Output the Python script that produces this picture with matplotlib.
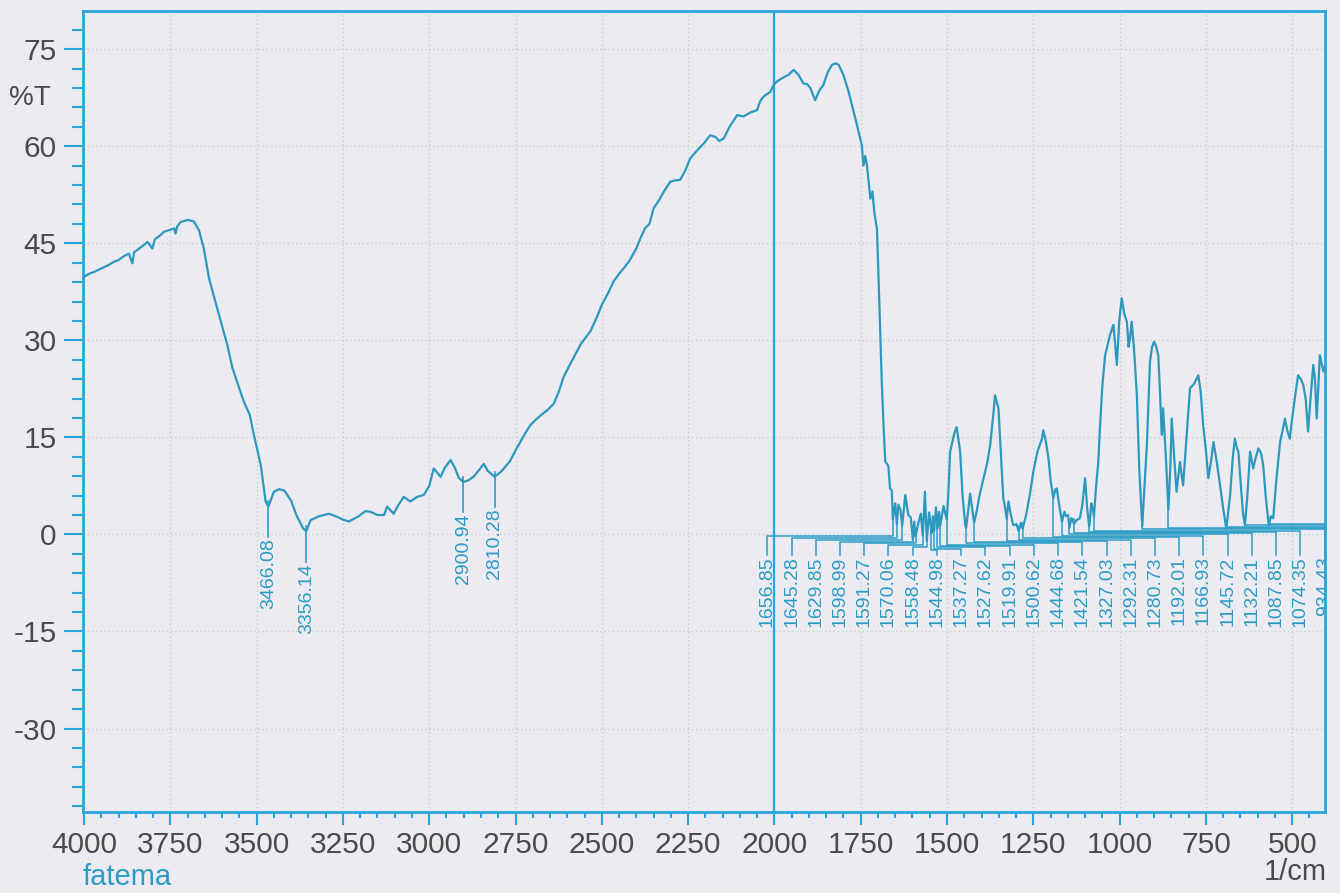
import numpy as np
import matplotlib.pyplot as plt
from matplotlib.ticker import MultipleLocator

plt.rcParams['font.family'] = ['Liberation Sans', 'DejaVu Sans']
plt.rcParams['axes.unicode_minus'] = False

# FTIR transmittance spectrum (wavenumber in 1/cm, %T)
wavenumber = [
    4000, 3985, 3970, 3950, 3930, 3915, 3900, 3885, 3870, 3860,
    3855, 3840, 3825, 3816, 3802, 3795, 3780, 3768, 3755, 3739,
    3735, 3730, 3720, 3700, 3682, 3667, 3653, 3638, 3614, 3585,
    3570, 3537, 3520, 3508, 3488, 3474, 3466.08, 3450, 3435, 3420,
    3400, 3385, 3365, 3356.14, 3344, 3320, 3291, 3270, 3250, 3233,
    3205, 3185, 3170, 3150, 3131, 3122, 3110, 3103, 3090, 3074,
    3055, 3035, 3016, 3000, 2987, 2967, 2955, 2938, 2925, 2915,
    2900.94, 2885, 2870, 2855, 2842, 2830, 2810.28, 2790, 2765, 2750,
    2736, 2720, 2707, 2690, 2675, 2658, 2639, 2625, 2611, 2595,
    2580, 2560, 2533, 2515, 2500, 2480, 2466, 2450, 2437, 2420,
    2400, 2388, 2375, 2362, 2350, 2335, 2320, 2302, 2290, 2273,
    2258, 2244, 2225, 2205, 2186, 2170, 2160, 2147, 2130, 2108,
    2090, 2070, 2050, 2041, 2031, 2012, 2002, 1993, 1975, 1960,
    1944, 1930, 1916, 1905, 1896, 1882, 1870, 1858, 1845, 1833,
    1822, 1814, 1800, 1785, 1770, 1761, 1747, 1742, 1737, 1732,
    1725, 1722, 1716, 1710, 1703, 1698, 1689, 1684, 1679, 1670,
    1665, 1660, 1656.85, 1650, 1645.28, 1641, 1635, 1629.85, 1621, 1612,
    1605, 1598.99, 1595, 1591.27, 1583, 1576, 1570.06, 1564, 1558.48, 1552,
    1548, 1544.98, 1541, 1537.27, 1532, 1527.62, 1523, 1519.91, 1510, 1500.62,
    1496, 1491, 1478, 1472, 1462, 1455, 1447, 1444.68, 1438, 1433,
    1427, 1421.54, 1414, 1406, 1394, 1383, 1375, 1365, 1361, 1351,
    1344, 1337, 1332, 1327.03, 1322, 1315, 1308, 1299, 1292.31, 1286,
    1280.73, 1270, 1260, 1250, 1238, 1225, 1221, 1214, 1206, 1200,
    1192.01, 1186, 1182, 1175, 1166.93, 1160, 1155, 1149, 1145.72, 1140,
    1136, 1132.21, 1125, 1115, 1108, 1100, 1094, 1087.85, 1082, 1078,
    1074.35, 1068, 1062, 1057, 1050, 1042, 1028, 1018, 1013, 1008,
    1001, 994, 986, 979, 974, 970, 965, 958, 950, 943,
    934.43, 929, 921, 912, 906, 900, 894, 888, 883, 878,
    874, 866, 858.71, 853, 849, 842, 835, 830, 825, 820,
    816, 806, 796, 785, 772, 765, 758, 750, 743, 736,
    728, 718, 709, 700, 690.90, 680, 672, 666, 661, 656,
    648, 642, 636.89, 630, 622, 613, 605, 598, 590, 584,
    577, 567.99, 562, 555, 545, 535, 528, 521, 514, 507,
    500, 490, 483, 475, 468, 461, 454, 447, 439, 434,
    429, 425, 420, 415, 410, 405,
]
transmittance = [
    39.8, 40.3, 40.6, 41.1, 41.6, 42.1, 42.4, 43.0, 43.4, 41.9,
    43.6, 44.2, 44.8, 45.2, 44.2, 45.6, 46.2, 46.8, 47.0, 47.3,
    46.5, 47.6, 48.3, 48.6, 48.4, 47.0, 44.2, 39.6, 34.9, 29.3,
    25.7, 20.5, 18.5, 15.4, 10.7, 5.1, 4.3, 6.6, 7.0, 6.8,
    5.2, 3.0, 0.9, 0.5, 2.2, 2.8, 3.2, 2.8, 2.3, 2.0,
    2.8, 3.6, 3.5, 3.0, 3.0, 4.3, 3.6, 3.2, 4.5, 5.8,
    5.1, 5.8, 6.1, 7.5, 10.2, 8.9, 10.3, 11.5, 10.2, 8.8,
    8.1, 8.4, 9.0, 10.0, 10.9, 9.8, 8.9, 9.8, 11.4, 13.0,
    14.3, 15.8, 16.9, 17.8, 18.5, 19.2, 20.2, 22.0, 24.3, 26.0,
    27.5, 29.5, 31.4, 33.5, 35.5, 37.5, 39.1, 40.3, 41.1, 42.3,
    44.2, 45.8, 47.3, 48.0, 50.4, 51.6, 53.0, 54.5, 54.7, 54.8,
    56.3, 58.1, 59.3, 60.4, 61.7, 61.4, 60.8, 61.2, 63.0, 64.8,
    64.6, 65.2, 65.6, 67.0, 67.7, 68.4, 69.5, 70.0, 70.6, 71.0,
    71.8, 71.0, 69.7, 69.6, 69.0, 67.1, 68.6, 69.5, 71.5, 72.6,
    72.8, 72.6, 71.0, 68.4, 65.2, 63.3, 60.2, 57.0, 58.5, 57.1,
    53.5, 51.9, 53.0, 49.5, 47.3, 39.1, 23.6, 17.0, 11.3, 10.6,
    7.1, 6.8, 2.3, 4.8, 1.6, 4.6, 3.8, 1.4, 6.1, 3.0,
    2.6, -0.8, 2.0, -0.3, 1.8, 3.2, -0.2, 6.6, -1.0, 3.4,
    1.8, 0.2, 2.8, 0.6, 4.2, 0.9, 3.5, 1.3, 4.4, 2.3,
    6.5, 12.8, 15.8, 16.6, 12.8, 6.0, 1.4, 1.0, 4.0, 6.3,
    4.0, 1.8, 3.6, 6.0, 8.7, 11.2, 13.8, 19.0, 21.5, 19.5,
    12.5, 5.6, 4.2, 2.4, 5.1, 3.0, 1.4, 1.6, 0.5, 1.8,
    0.9, 3.2, 6.2, 9.7, 12.8, 14.8, 16.1, 14.5, 11.7, 8.4,
    5.6, 7.0, 7.1, 4.6, 2.0, 3.5, 2.8, 3.0, 1.0, 2.5,
    2.3, 1.6, 2.2, 2.5, 4.6, 8.7, 4.0, 1.2, 4.8, 4.0,
    2.8, 7.5, 11.0, 16.4, 23.0, 27.7, 30.8, 32.4, 29.5, 26.2,
    33.0, 36.5, 34.0, 32.9, 29.0, 30.3, 32.9, 28.5, 21.5, 10.0,
    1.2, 6.5, 13.8, 26.7, 29.0, 29.8, 29.0, 27.7, 22.0, 15.4,
    19.5, 12.0, 3.8, 10.5, 17.9, 12.0, 6.6, 9.0, 11.2, 9.0,
    7.6, 15.0, 22.6, 23.2, 24.6, 22.0, 16.9, 13.0, 8.7, 11.0,
    14.3, 11.0, 7.6, 4.0, 0.9, 6.0, 12.0, 14.8, 13.5, 12.8,
    7.0, 3.0, 1.4, 6.0, 12.8, 10.2, 12.0, 13.3, 12.5, 10.7,
    6.0, 1.4, 2.8, 2.5, 9.0, 14.3, 16.0, 17.9, 16.0, 14.8,
    18.0, 22.0, 24.6, 24.0, 23.1, 21.0, 15.9, 21.0, 26.2, 24.0,
    17.9, 22.0, 27.7, 26.5, 25.2, 26.0,
]

# picked peaks
peaks_high = [3466.08, 3356.14, 2900.94, 2810.28]
peaks_low = [1656.85, 1645.28, 1629.85, 1598.99, 1591.27, 1570.06, 1558.48,
             1544.98, 1537.27, 1527.62, 1519.91, 1500.62, 1444.68, 1421.54,
             1327.03, 1292.31, 1280.73, 1192.01, 1166.93, 1145.72, 1132.21,
             1087.85, 1074.35, 934.43]
# peaks whose labels run off the right edge of the printout
peaks_offpage = [858.71, 690.90, 636.89, 567.99]

x_ticks = np.arange(4000, 499, -250)
y_ticks = np.arange(-30, 76, 15)

paper = '#ecebf1'
axis_blue = '#2aa5dd'
trace = '#2d98bd'
peak_col = '#2b9cc6'
grey = '#4a4a4a'

wn = np.array(wavenumber)
tr = np.array(transmittance)


def peak_value(w):
    return np.interp(w, wn[::-1], tr[::-1])


fig = plt.figure(figsize=(13.4, 8.93), dpi=100, facecolor=paper)
ax = fig.add_axes([83 / 1340, 1 - 812 / 893, (1325 - 83) / 1340, (812 - 11) / 893])
ax.set_facecolor(paper)

ax.plot(wn, tr, color=trace, lw=1.6, zorder=3)
ax.axvline(2000, color=axis_blue, lw=1.6, zorder=2)

ax.set_xlim(4003, 405)
ax.set_ylim(-42.9, 80.9)
ax.set_xticks(x_ticks)
ax.set_yticks(y_ticks)
ax.xaxis.set_minor_locator(MultipleLocator(50))
ax.yaxis.set_minor_locator(MultipleLocator(3))
ax.tick_params(axis='both', which='both', color=axis_blue, width=1.5,
               labelcolor=grey, labelsize=21.5)
ax.tick_params(axis='y', which='major', length=14, pad=5)
ax.tick_params(axis='y', which='minor', length=8)
ax.tick_params(axis='x', which='major', length=9, pad=5)
ax.tick_params(axis='x', which='minor', length=4)
ax.grid(which='major', linestyle=(0, (1, 2)), color='#bcd6c9', lw=1)
ax.set_axisbelow(True)
for s in ax.spines.values():
    s.set_color(axis_blue)
    s.set_linewidth(2)

# peak labels above 2000: straight down under the peak
for w in peaks_high:
    yp = peak_value(w)
    top = yp - 4.7
    ax.plot([w, w], [yp + 0.8, top], color=peak_col, lw=1.2, zorder=4)
    ax.text(w, top - 0.2, f"{w:.2f}", rotation=90, ha='center', va='top',
            fontsize=14, color=peak_col)

# crowded fingerprint peaks: labels spread out, joined by leader lines
label_start = 2020.7
label_step = 70.2
text_top = -3.2
n_left = 0
n_right = 0
for k, w in enumerate(peaks_low + peaks_offpage):
    lx = label_start - label_step * k
    yp = peak_value(w)
    if lx > w:
        level = -0.2 - 0.3 * n_left
        n_left += 1
    else:
        level = -2.4 + 0.2 * n_right
        n_right += 1
    ax.plot([w, w, lx, lx], [yp + 0.8, level, level, text_top],
            color=peak_col, lw=1.1, zorder=4, clip_on=True)
    if w in peaks_low:
        ax.text(lx, text_top - 0.2, f"{w:.2f}", rotation=90, ha='center',
                va='top', fontsize=14, color=peak_col, clip_on=True)

fig.text(30 / 1340, 1 - 98 / 893, '%T', ha='center', va='center',
         fontsize=20, color=grey)
fig.text(83 / 1340, 1 - 877 / 893, 'fatema', ha='left', va='center',
         fontsize=21, color=peak_col)
fig.text(1327 / 1340, 1 - 872 / 893, '1/cm', ha='right', va='center',
         fontsize=21, color=grey)

fig.savefig('out.png', dpi=100, facecolor=paper)
